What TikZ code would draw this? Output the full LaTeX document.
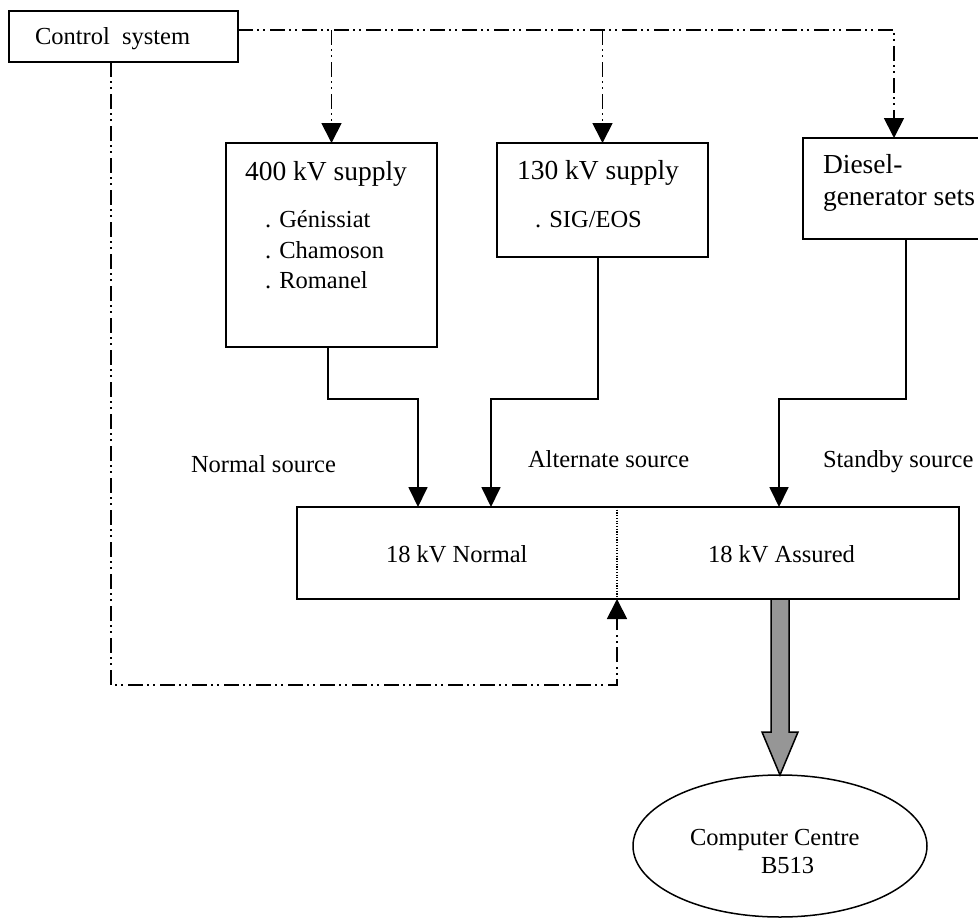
\documentclass[tikz,border=0pt]{standalone}
\usepackage{fontspec}
\setmainfont{Liberation Serif}
\usetikzlibrary{arrows.meta,shapes.geometric,calc}
\definecolor{arrowgray}{RGB}{150,150,150}
\newcommand\hdtxt{\fontsize{27.5}{33}\selectfont}
\newcommand\bdtxt{\fontsize{24.5}{30}\selectfont}
\begin{document}
\begin{tikzpicture}[x=1pt,y=-1pt,
  box/.style={draw, line width=1.7pt, rectangle, inner sep=0pt, outer sep=0pt, anchor=north west},
  txt/.style={anchor=base west, inner sep=0pt, outer sep=0pt, font=\bdtxt},
  htxt/.style={txt, font=\hdtxt},
  feed/.style={line width=1.8pt, -{Triangle[length=20pt,width=19pt]}},
  ctl/.style={line width=1.8pt, dash pattern=on 15pt off 4pt on 2pt off 4pt on 2pt off 5pt},
  ctlarrow/.style={ctl, -{Triangle[length=20pt,width=20pt]}}]
\useasboundingbox (0,0) rectangle (978,918);
\clip (0,0) rectangle (978,918);
\fill[white] (0,0) rectangle (978,918);

% boxes
\node[box, minimum width=229pt, minimum height=51pt] (ctrl) at (9,11) {};
\node[box, minimum width=211pt, minimum height=204pt] (s400) at (226,143) {};
\node[box, minimum width=211pt, minimum height=114pt] (s130) at (497,143) {};
\node[box, minimum width=182pt, minimum height=101pt] (dsl) at (803,138) {};
\node[box, minimum width=662pt, minimum height=92pt] (bus) at (297,507) {};
\node[draw, ellipse, line width=1.5pt, minimum width=294pt, minimum height=142pt, inner sep=0pt, outer sep=0pt] (cc) at (780,846) {};

% texts
\node[txt] (tctrl) at (35,45) {Control\ \ system};
\node[htxt] (t400) at (245,180) {400 kV supply};
\node[txt] (tg) at (265,227) {. Génissiat};
\node[txt] (tch) at (265,258) {. Chamoson};
\node[txt] (tro) at (265,288) {. Romanel};
\node[htxt] (t130) at (517,179) {130 kV supply};
\node[txt] (tsig) at (535,227) {. SIG/EOS};
\node[htxt] (tdi1) at (823,173) {Diesel-};
\node[htxt] (tdi2) at (823,205) {generator sets};
\node[txt] (tns) at (191,472) {Normal source};
\node[txt] (tas) at (528,467) {Alternate source};
\node[txt] (tss) at (823,467) {Standby source};
\node[txt] (tn) at (386,562) {18 kV Normal};
\node[txt] (ta) at (708,562) {18 kV Assured};
\node[txt] (tcc) at (690,845) {Computer Centre};
\node[txt] (tb) at (761,873) {B513};

% control lines
\coordinate (tl) at (0,30);
\draw[ctlarrow] (ctrl.east |- tl) -| (dsl.north);
\draw[ctlarrow] (s400.north |- tl) -- (s400.north);
\draw[ctlarrow] (s130.north |- tl) -- (s130.north);
\coordinate (lc) at (111,685);
\coordinate (up) at (617,599);
\draw[ctlarrow] (ctrl.south -| lc) -- (lc) -| (up);

% divider
\draw[line width=1.2pt, dash pattern=on 1.2pt off 1.5pt] (bus.north -| up) -- (up);

% feeds
\coordinate (j1) at (328,399); \coordinate (j2) at (418,399);
\draw[feed] (s400.south -| j1) -- (j1) -- (j2) -- (bus.north -| j2);
\coordinate (j3) at (598,399); \coordinate (j4) at (491,399);
\draw[feed] (s130.south -| j3) -- (j3) -- (j4) -- (bus.north -| j4);
\coordinate (j5) at (906,399); \coordinate (j6) at (779,399);
\draw[feed] (dsl.south -| j5) -- (j5) -- (j6) -- (bus.north -| j6);

% gray arrow
\path (bus.south -| cc.north) coordinate (g0);
\draw[fill=arrowgray, line width=1.5pt, line join=miter]
  ($(g0)+(-9,0)$) -- ($(g0)+(9,0)$) -- ($(cc.north)+(9,-43)$) -- ($(cc.north)+(18,-43)$)
  -- (cc.north) -- ($(cc.north)+(-18,-43)$) -- ($(cc.north)+(-9,-43)$) -- cycle;
\end{tikzpicture}
\end{document}
